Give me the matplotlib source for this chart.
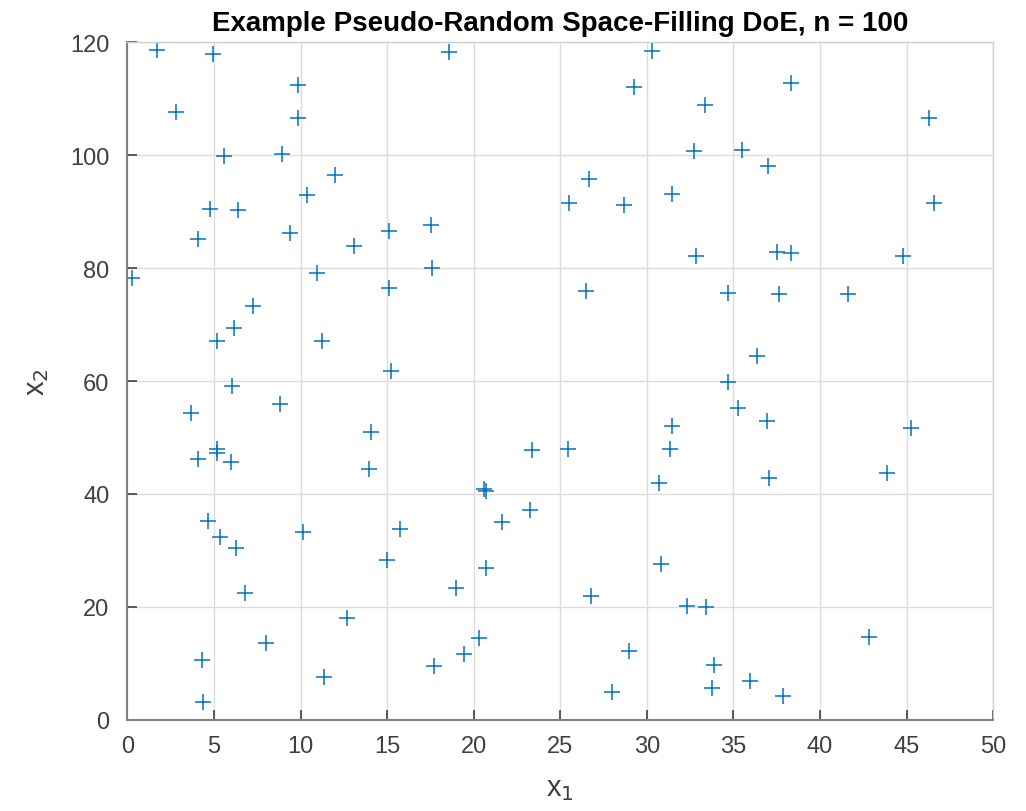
import matplotlib
matplotlib.use("Agg")
import matplotlib.pyplot as plt

x1 = [1.73, 4.96, 9.83, 2.79, 9.87, 5.60, 8.93, 12.00, 10.39, 4.77,
      6.39, 4.08, 9.37, 13.07, 15.12, 0.27, 10.95, 15.12, 7.23, 6.15,
      5.19, 11.22, 15.20,
      18.59, 30.29, 29.27, 32.71, 26.65, 25.48, 28.67, 31.44, 17.53, 17.59,
      26.46, 32.83,
      38.30, 33.33, 46.28, 35.50, 37.02, 46.59, 37.52, 38.30, 44.82, 34.70,
      37.64, 41.60, 36.37,
      6.02, 8.81, 3.67, 14.06, 5.15, 5.19, 4.08, 5.96, 13.95, 4.67,
      10.12, 15.74, 5.35, 6.27, 14.97, 6.77, 12.70, 8.00, 4.32, 11.33, 4.38,
      31.44, 31.35, 23.38, 25.46, 30.71, 20.59, 20.70, 23.24, 21.65, 20.70,
      30.79, 18.97, 26.75, 32.29, 20.28, 19.42, 17.68, 28.96, 27.98,
      34.66, 35.27, 36.91, 45.24, 37.06, 43.86, 33.40, 42.83, 33.89, 35.95,
      33.74, 37.87]
x2 = [118.7, 117.9, 112.4, 107.6, 106.6, 99.9, 100.2, 96.5, 93.0, 90.5,
      90.3, 85.1, 86.2, 84.0, 86.5, 78.2, 79.1, 76.5, 73.2, 69.4,
      67.0, 67.1, 61.8,
      118.2, 118.4, 112.0, 100.7, 95.7, 91.5, 91.2, 93.2, 87.6, 80.1,
      75.9, 82.2,
      112.8, 108.9, 106.5, 100.9, 98.1, 91.5, 82.9, 82.7, 82.1, 75.6,
      75.5, 75.4, 64.5,
      59.2, 56.0, 54.3, 50.9, 47.95, 47.2, 46.1, 45.6, 44.4, 35.2,
      33.2, 33.7, 32.3, 30.4, 28.3, 22.5, 18.1, 13.6, 10.6, 7.5, 3.1,
      52.0, 47.9, 47.7, 48.0, 41.9, 40.9, 40.5, 37.2, 35.1, 26.9,
      27.6, 23.3, 22.0, 20.1, 14.4, 11.6, 9.5, 12.2, 4.85,
      59.8, 55.3, 52.9, 51.6, 42.9, 43.7, 20.0, 14.6, 9.7, 6.8,
      5.6, 4.25]

x_ticks = [0, 5, 10, 15, 20, 25, 30, 35, 40, 45, 50]
y_ticks = [0, 20, 40, 60, 80, 100, 120]
title = "Example Pseudo-Random Space-Filling DoE, n = 100"

plt.rcParams['font.family'] = ['Liberation Sans', 'DejaVu Sans']

fig = plt.figure(figsize=(10.26, 8.12), dpi=100)
ax = fig.add_axes([0.1242, 0.1124, 0.968 - 0.1242, 0.9467 - 0.1124])

ax.plot(x1, x2, linestyle='none', marker='+', color='#0072BD',
        markersize=12, markeredgewidth=1.1)

ax.set_xlim(0, 50)
ax.set_ylim(0, 120)
ax.set_xticks(x_ticks)
ax.set_yticks(y_ticks)
ax.grid(True, color='#dcdcdc', linewidth=1.0)
ax.set_axisbelow(True)

for s in ['left', 'bottom']:
    ax.spines[s].set_color('#808080')
    ax.spines[s].set_linewidth(1.5)
for s in ['top', 'right']:
    ax.spines[s].set_color('#d0d0d0')
    ax.spines[s].set_linewidth(1.0)

ax.tick_params(direction='in', length=7, width=1.2, color='#404040',
               labelsize=17, labelcolor='#404040')
ax.tick_params(axis='y', pad=13)
ax.tick_params(axis='x', pad=11)

ax.set_xlabel('x$_1$', fontsize=21, color='#404040', labelpad=12)
ax.set_ylabel('x$_2$', fontsize=21, color='#404040', labelpad=14)
ax.set_title(title, fontsize=20, fontweight='bold', color='black', pad=9)

fig.savefig('out.png', dpi=100, facecolor='white')
